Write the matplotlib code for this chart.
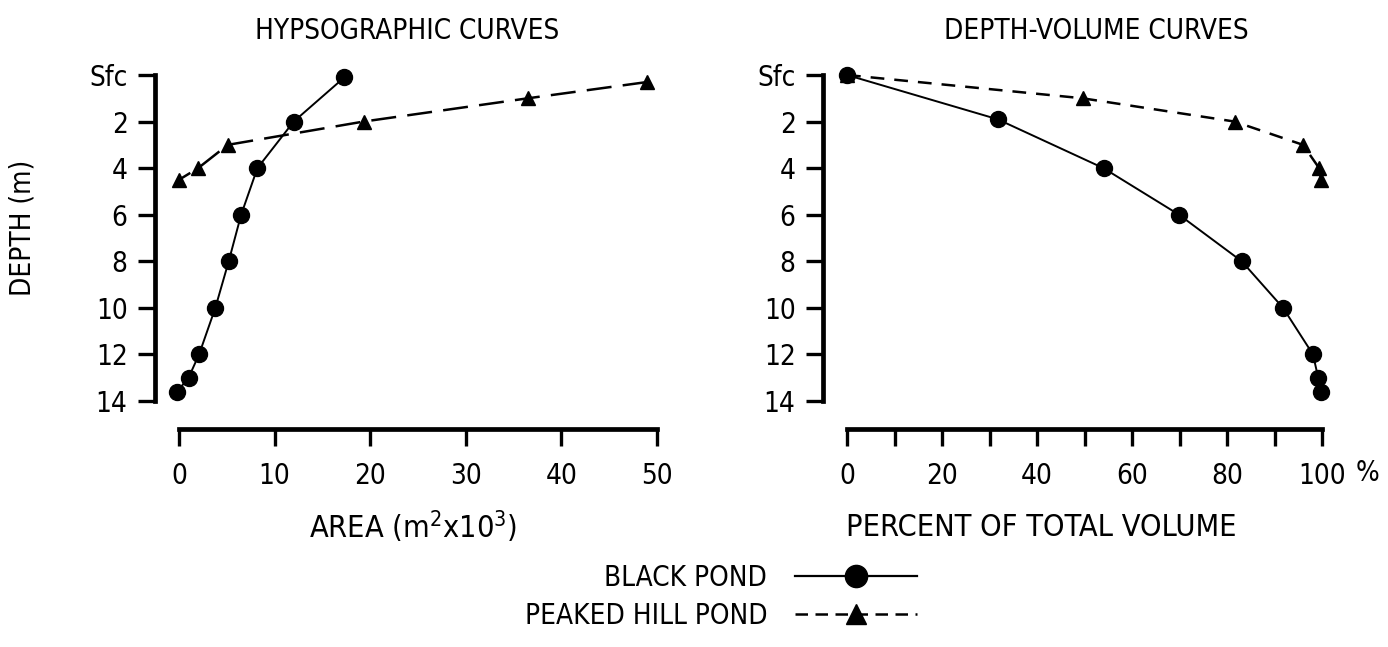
import matplotlib
matplotlib.use("Agg")
import matplotlib.pyplot as plt
from matplotlib.lines import Line2D

plt.rcParams['font.family'] = ['Liberation Sans Narrow', 'DejaVu Sans']
plt.rcParams['font.stretch'] = 'condensed'
plt.rcParams['mathtext.fontset'] = 'custom'
plt.rcParams['mathtext.rm'] = 'DejaVu Sans:stretch=condensed'
plt.rcParams['mathtext.default'] = 'regular'

# hypsographic curves: area (m2 x 10^3) vs depth (m)
black_area = [17.3, 12.0, 8.2, 6.5, 5.2, 3.8, 2.1, 1.0, -0.2]
black_area_depth = [0.1, 2.0, 4.0, 6.0, 8.0, 10.0, 12.0, 13.0, 13.6]
peaked_area = [49.0, 36.5, 19.3, 5.1, 2.0, 0.0]
peaked_area_depth = [0.3, 1.0, 2.0, 3.0, 4.0, 4.5]

# depth-volume curves: percent of total volume vs depth (m)
black_vol = [0.0, 31.7, 54.0, 69.9, 83.1, 91.8, 98.1, 99.2, 99.8]
black_vol_depth = [0.0, 1.9, 4.0, 6.0, 8.0, 10.0, 12.0, 13.0, 13.6]
peaked_vol = [0.0, 49.6, 81.6, 96.0, 99.4, 99.8]
peaked_vol_depth = [0.0, 1.0, 2.0, 3.0, 4.0, 4.5]

depth_ticks = [0, 2, 4, 6, 8, 10, 12, 14]
depth_labels = ['Sfc', '2', '4', '6', '8', '10', '12', '14']
area_ticks = [0, 10, 20, 30, 40, 50]
vol_ticks = [0, 20, 40, 60, 80, 100]
vol_minor = [10, 30, 50, 70, 90]

W, H = 1388, 647
FS = 20

fig = plt.figure(figsize=(W / 100, H / 100), dpi=100)
ax1 = fig.add_axes([179 / W, 1 - 401 / H, 478 / W, 326 / H])
ax2 = fig.add_axes([847 / W, 1 - 401 / H, 475 / W, 326 / H])


def style_axes(ax, xmax, xticks):
    ax.set_xlim(0, xmax)
    ax.set_ylim(14, 0)
    for s in ['top', 'right']:
        ax.spines[s].set_visible(False)
    ax.spines['left'].set_position(('outward', 17))
    ax.spines['bottom'].set_position(('outward', 20))
    ax.spines['left'].set_bounds(0, 14)
    ax.spines['bottom'].set_bounds(0, xmax)
    for s in ['left', 'bottom']:
        ax.spines[s].set_linewidth(3.4)
        ax.spines[s].set_capstyle('projecting')
    ax.set_yticks(depth_ticks)
    ax.set_yticklabels(depth_labels)
    ax.set_xticks(xticks)
    ax.tick_params(which='both', length=12, width=2.4, labelsize=FS)
    ax.tick_params(axis='y', pad=8)
    ax.tick_params(axis='x', pad=12)
    ax.patch.set_visible(False)


style_axes(ax1, 50, area_ticks)
style_axes(ax2, 100, vol_ticks)
ax2.set_xticks(vol_minor, minor=True)

# left panel
ax1.plot(black_area, black_area_depth, color='black', lw=1.4, marker='o', ms=11.5, clip_on=False)
ax1.plot(peaked_area, peaked_area_depth, color='black', lw=1.8, dashes=(10, 4.5), marker='^', ms=10, clip_on=False)

# right panel
ax2.plot(black_vol, black_vol_depth, color='black', lw=1.4, marker='o', ms=11.5, clip_on=False)
ax2.plot(peaked_vol, peaked_vol_depth, color='black', lw=1.8, dashes=(5.5, 4), marker='^', ms=10, clip_on=False)

ax1.text(0.477, 1.135, 'HYPSOGRAPHIC CURVES', transform=ax1.transAxes, ha='center', va='center', fontsize=FS)
ax2.text(0.524, 1.135, 'DEPTH-VOLUME CURVES', transform=ax2.transAxes, ha='center', va='center', fontsize=FS)

ax1.text(0.49, -0.387, 'AREA (m$^2$x10$^3$)', transform=ax1.transAxes, ha='center', va='center', fontsize=22)
ax2.text(0.41, -0.387, 'PERCENT OF TOTAL VOLUME', transform=ax2.transAxes, ha='center', va='center', fontsize=22)
ax2.text(109.5, -0.222, '%', transform=ax2.get_xaxis_transform(), ha='center', va='center', fontsize=FS)

fig.text(23 / W, 1 - 228 / H, 'DEPTH (m)', rotation=90, ha='center', va='center', fontsize=FS)

handles = [
    Line2D([], [], color='black', lw=1.6, marker='o', ms=16),
    Line2D([], [], color='black', lw=1.8, dashes=(5, 3), marker='^', ms=15),
]
fig.legend(handles, ['BLACK POND', 'PEAKED HILL POND'], loc='center',
           bbox_to_anchor=(721 / W, 1 - 597 / H), frameon=False, markerfirst=False,
           fontsize=FS, handlelength=4.4, handletextpad=1.0, labelspacing=0.35)

fig.savefig('out.png', dpi=100)
